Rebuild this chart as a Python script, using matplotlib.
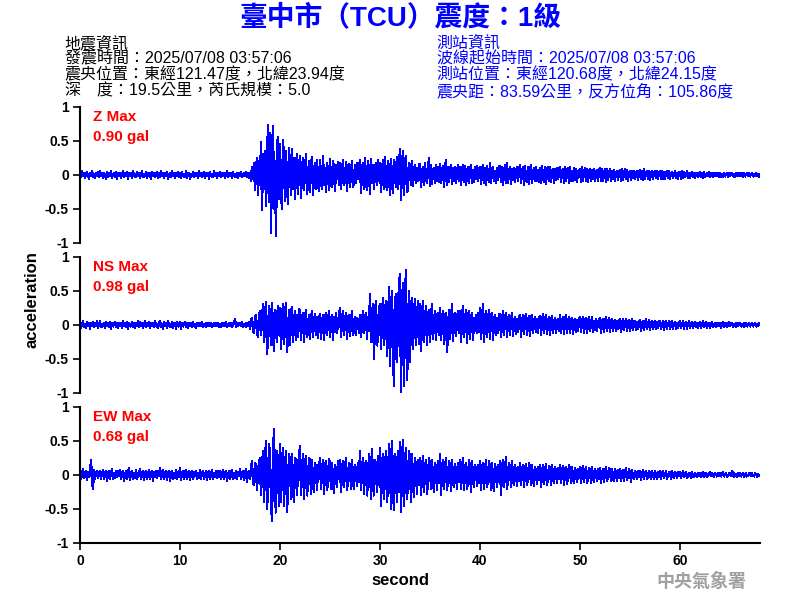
import numpy as np
import matplotlib
matplotlib.use('Agg')
import matplotlib.pyplot as plt

plt.rcParams['font.family'] = ['Liberation Sans', 'Noto Sans CJK TC']
plt.rcParams['axes.unicode_minus'] = False

# 取樣間隔 (秒)
dt = 0.1

# 垂直向 Z (gal), 每列 2 秒
z_acc = [
    .02, -.03, .05, -.01, .03, -.04, .01, .04, -.02, -.05, .03, -.02, .06, -.03, .01, -.04, .03, -.01, .04, -.03,
    .05, -.02, .02, -.04, .03, .01, -.05, .04, -.03, .02, -.02, .05, -.04, .01, .03, -.03, .04, -.05, .02, -.01,
    .03, -.04, .01, .05, -.03, .02, -.02, .04, -.05, .03, -.01, .02, -.04, .05, -.02, .01, -.03, .04, -.02, .03,
    -.04, .02, .05, -.03, .01, -.02, .04, -.04, .03, -.01, .02, -.05, .04, -.02, .03, -.03, .01, .04, -.04, .02,
    -.03, .05, -.01, .03, -.04, .02, -.02, .04, -.05, .01, .03, -.03, .05, -.02, .02, -.04, .03, -.01, .04, -.03,
    .02, -.04, .04, -.02, .01, -.03, .05, -.04, .02, .03, -.05, .01, -.02, .04, -.03, .03, -.01, .02, -.04, .05,
    -.02, .03, -.03, .01, .04, -.04, .02, -.01, .03, -.05, .04, -.02, .01, -.03, .05, -.02, .03, -.04, .02, -.01,
    .04, -.03, .02, -.02, .03, -.04, .01, .05, -.03, .02, -.01, .03, -.04, .04, -.02, .01, -.03, .02, -.04, .03,
    -.02, .04, -.03, .01, .03, -.02, .04, -.03, .02, -.04, .03, -.08, .12, -.05, .18, -.22, .10, .25, -.30, .20,
    -.15, .48, -.51, .30, -.20, .35, -.45, .15, .74, -.40, .62, -.85, .30, .72, -.50, .20, -.90, .45, .55, -.35,
    .45, -.25, -.50, .52, .20, -.38, .35, -.15, -.42, .40, .10, -.30, .38, -.20, .25, -.35, .15, .30, -.28, .12,
    .28, -.33, .10, .25, -.22, .08, .30, -.28, -.12, .20, -.25, .15, .27, -.30, .05, .18, -.20, .22, -.10, -.24,
    .22, -.08, -.20, .28, -.15, .10, -.25, .18, .06, -.22, .24, -.12, -.18, .20, .08, -.24, .15, -.06, .19, -.14,
    .17, -.20, .05, .22, -.15, -.08, .19, -.23, .12, .16, -.18, .04, .20, -.17, -.10, .14, -.12, .18, -.06, .10,
    .22, -.26, .08, .18, -.20, .25, -.10, -.22, .20, .06, -.28, .24, -.12, .15, -.20, .10, .18, -.15, .22, -.08,
    .18, -.25, .06, .22, -.20, .26, -.12, -.22, .20, .08, -.30, .24, -.10, -.27, .22, .14, -.18, .26, -.20, .12,
    .38, -.36, .15, .35, -.30, .20, .28, -.25, -.20, .18, .12, -.15, .20, -.16, .08, .14, -.12, .10, -.08, .16,
    .15, -.18, .05, .12, -.15, .17, -.06, -.12, .10, .25, -.16, .14, -.13, .06, .10, -.12, .15, -.08, .12, -.10,
    .16, -.12, .04, .13, -.17, .08, .22, -.14, .12, -.10, .06, .15, -.13, .10, -.08, .12, -.11, .05, .14, -.09,
    .12, -.14, .06, .15, -.10, .13, -.15, .04, .12, -.11, .09, .14, -.12, .07, -.10, .11, -.06, .13, -.08, .10,
    .11, -.13, .05, .15, -.12, .10, -.14, .13, -.05, -.10, .17, -.12, .08, .12, -.09, .06, -.11, .10, -.07, .12,
    .13, -.10, .12, -.15, .06, .14, -.11, .18, -.12, .04, .12, -.13, .09, -.07, .10, -.10, .06, .11, -.09, .08,
    .15, -.12, .05, .11, -.14, .13, -.06, -.10, .12, -.13, .08, .14, -.11, .05, .10, -.09, .12, -.08, .07, -.10,
    .10, -.12, .13, -.05, -.10, .11, -.13, .06, .12, -.09, .11, -.10, .04, .09, -.11, .08, -.07, .10, -.06, .09,
    .12, -.10, .04, .09, -.12, .11, -.09, .06, .10, -.11, .12, -.08, .05, -.09, .10, -.07, .08, -.10, .06, .07,
    .09, -.10, .11, -.08, .04, .10, -.09, .08, -.10, .05, .09, -.08, .07, -.06, .08, -.09, .05, .07, -.08, .06,
    .10, -.08, .09, -.09, .03, .08, -.10, .09, -.07, .05, .08, -.09, .06, -.05, .07, -.08, .04, .06, -.07, .05,
    .07, -.08, .09, -.07, .03, .08, -.06, .07, -.08, .04, .06, -.07, .05, -.04, .06, -.06, .03, .05, -.07, .04,
    .07, -.06, .06, -.07, .08, -.05, .02, .06, -.06, .05, -.07, .04, .05, -.05, .03, .06, -.04, .05, -.05, .03,
    .06, -.05, .05, -.06, .04, -.05, .02, .06, -.04, .05, -.05, .03, .04, -.04, .02, .05, -.04, .03, -.05, .04,
    .04, -.05, .05, -.04, .04, -.03, .01, .05, -.04, .03, -.04, .02, .04, -.03, .03, -.04, .02, .03, -.03, .02,
    .04, -.03, .03, -.04, .04, -.03, .01, .03, -.02, .04, -.03, .02, .03, -.03, .02, -.02, .03, -.01, .02, -.03,
    .03, -.03, .02, -.03, .03, -.02, .01, .03, -.03, .02, -.02, .02, .03, -.02, .01, -.03, .02, -.01, .02, -.02,
    .03, -.02, .02, -.03, .02, -.02, .01, .03, -.01, .02, -.02, .01, .02, -.02, .01, -.01, .02, -.01, .01, -.02,
    .01,
]

# 南北向 NS
ns_acc = [
    .03, -.04, .02, .05, -.03, .01, -.04, .04, -.02, .03, -.05, .02, -.01, .04, -.03, .02, -.02, .05, -.04, .01,
    .05, -.03, .01, -.02, .03, -.04, .04, -.01, .02, -.03, .04, -.05, .03, -.02, .01, .04, -.03, .02, -.04, .03,
    -.02, .03, -.04, .05, -.01, .02, -.03, .04, -.05, .03, .01, -.02, .04, -.03, .02, -.04, .03, -.01, .05, -.03,
    .04, -.02, .03, -.04, .01, .05, -.03, .02, -.02, .04, -.04, .03, -.01, .02, -.03, .05, -.02, .01, -.04, .03,
    .05, -.03, .02, -.05, .04, -.01, .03, -.04, .05, -.02, .01, -.03, .04, -.04, .02, .03, -.05, .04, -.02, .01,
    .04, -.05, .03, -.02, .01, .04, -.03, .02, -.04, .03, -.01, .02, -.03, .04, -.02, .01, -.04, .02, .03, -.02,
    .03, -.02, .04, -.03, .01, .02, -.03, .03, -.01, .02, -.02, .03, -.03, .01, .02, -.02, .03, -.01, .02, -.03,
    .02, -.03, .03, -.01, .02, -.02, .04, -.03, .01, .03, -.02, .02, -.03, .02, .01, .08, -.03, .02, -.02, .03,
    .03, -.02, .04, -.03, .01, .02, -.03, .03, -.02, .04, -.05, .06, .10, -.08, -.12, .12, .15, -.10, -.18, .14,
    .20, -.15, .08, .30, -.25, .12, .34, -.42, -.20, .28, .15, -.30, .32, -.10, -.38, .22, .18, -.25, .28, -.15,
    .25, -.35, .10, .30, -.28, .14, .32, -.40, -.12, .22, -.30, .18, .26, -.25, .06, .20, -.22, .15, -.18, .24,
    .20, -.22, .08, .18, -.25, .12, .22, -.18, -.08, .15, -.20, .10, .20, -.17, .05, .16, -.14, .12, -.19, .08,
    .16, -.20, .06, .14, -.22, .10, .18, -.15, .05, .20, -.18, .08, .15, -.22, .12, -.10, .17, -.12, .06, .14,
    .25, -.17, .08, .20, -.15, .05, .18, -.20, .10, .15, -.16, .06, .20, -.14, -.08, .12, -.15, .10, .08, -.12,
    .15, -.18, .06, .20, -.12, .10, .18, -.20, .12, -.08, .45, -.25, .15, .30, -.50, .20, .35, -.30, -.15, .25,
    .30, -.35, .12, .40, -.30, .20, .35, -.45, -.10, .55, -.60, .25, .50, -.40, -.90, .35, .45, -.55, .20, .60,
    .75, -1.0, .30, .62, -.90, .40, .81, -.81, -.30, .50, -.55, .25, .40, -.35, .15, .38, -.30, .10, .35, -.28,
    .30, -.38, .12, .35, -.25, .08, .28, -.30, .15, .22, -.25, .10, .30, -.20, .05, .20, -.22, .12, .18, -.15,
    .25, -.22, .08, .20, -.28, .12, .18, -.40, -.10, .22, -.20, .06, .30, -.24, .14, .18, -.16, .08, .20, -.12,
    .20, -.25, .10, .28, -.18, .06, .22, -.26, .12, .20, -.20, .08, .18, -.22, .10, -.08, .15, -.12, .18, -.10,
    .25, -.20, .06, .30, -.25, .10, .20, -.18, .05, .22, -.20, .12, .18, -.22, .08, .15, -.14, .10, -.12, .16,
    .16, -.18, .05, .20, -.15, .10, .18, -.17, .06, .15, -.14, .08, .17, -.16, .04, .12, -.13, .09, -.10, .12,
    .15, -.17, .06, .14, -.13, .08, .16, -.15, .05, .13, -.16, .10, .15, -.12, .04, .11, -.10, .08, -.12, .09,
    .13, -.14, .05, .16, -.12, .07, .14, -.13, .04, .12, -.15, .08, .13, -.11, .05, .10, -.12, .06, .09, -.08,
    .14, -.12, .05, .11, -.13, .08, .15, -.11, .04, .12, -.12, .06, .10, -.13, .05, .09, -.10, .07, -.08, .10,
    .12, -.10, .04, .11, -.12, .06, .10, -.11, .05, .12, -.09, .03, .11, -.10, .06, -.07, .09, -.08, .05, .08,
    .10, -.11, .04, .09, -.10, .05, .11, -.08, .03, .10, -.10, .06, .09, -.09, .04, .07, -.08, .05, -.06, .07,
    .08, -.10, .03, .09, -.07, .05, .08, -.09, .04, .07, -.08, .03, .09, -.07, .05, .06, -.07, .04, -.05, .06,
    .07, -.08, .03, .06, -.07, .04, .08, -.06, .02, .07, -.07, .04, .06, -.06, .03, .05, -.06, .04, -.04, .05,
    .06, -.06, .02, .05, -.07, .04, .06, -.05, .02, .05, -.06, .03, .05, -.05, .02, .04, -.05, .03, -.04, .04,
    .05, -.04, .02, .05, -.05, .03, .04, -.05, .02, .05, -.04, .02, .04, -.04, .01, .04, -.03, .02, -.04, .03,
    .04, -.04, .02, .05, -.03, .01, .04, -.04, .03, .03, -.04, .02, .04, -.03, .01, .03, -.03, .02, -.02, .03,
    .03, -.04, .01, .04, -.03, .02, .03, -.03, .01, .04, -.02, .02, .03, -.03, .01, .02, -.03, .02, -.02, .02,
    .03, -.02, .01, .02, -.03, .02, .03, -.02, .01, .02, -.02, .01, .02, -.02, .01, .03, -.02, .01, -.01, .02,
    .01,
]

# 東西向 EW
ew_acc = [
    .05, -.06, .03, .08, -.04, .02, .06, -.07, .04, -.03, .02, .22, -.10, -.20, .07, -.05, .04, .06, -.04, .03,
    .06, -.05, .02, .07, -.06, .03, .05, -.08, .01, .06, -.05, .04, .08, -.06, .02, -.04, .05, -.03, .06, -.02,
    .07, -.05, .03, .06, -.08, .02, .05, -.06, .04, .10, -.07, .02, .06, -.05, .03, -.04, .07, -.06, .02, .05,
    .08, -.06, .02, .06, -.07, .04, .05, -.06, .01, .07, -.05, .03, .06, -.08, .04, -.03, .05, -.04, .06, -.02,
    .10, -.06, .03, .07, -.05, .02, .06, -.07, .04, .05, -.08, .02, .06, -.05, .03, -.04, .07, -.05, .04, -.03,
    .10, -.07, .02, .06, -.06, .04, .07, -.05, .01, .06, -.07, .03, .05, -.06, .04, -.02, .06, -.05, .03, -.04,
    .07, -.05, .03, .06, -.06, .02, .05, -.07, .04, .06, -.05, .01, .07, -.06, .03, -.03, .05, -.04, .06, -.03,
    .05, -.06, .02, .07, -.05, .04, .06, -.08, .01, .05, -.06, .03, .07, -.05, .02, -.04, .06, -.05, .04, -.02,
    .08, -.06, .03, .06, -.07, .02, .08, -.10, .04, .06, -.05, .10, .20, -.12, -.15, .18, .12, -.22, .08, .16,
    .25, -.30, .10, .35, -.40, .18, .50, -.50, -.20, .45, .30, -.40, -.67, .25, .68, -.30, -.55, .35, .20, -.45,
    .45, -.40, .15, .40, -.45, .10, .35, -.54, -.20, .30, .22, -.35, .30, -.15, -.40, .25, .20, -.30, .12, .28,
    .42, -.30, .08, .30, -.35, .15, .28, -.30, -.10, .25, .20, -.28, .22, -.12, -.25, .18, .10, -.22, .15, .08,
    .25, -.20, .06, .22, -.28, .12, .20, -.22, -.08, .24, .15, -.20, .18, -.10, -.26, .14, .08, -.18, .20, -.06,
    .22, -.25, .08, .20, -.18, .10, .25, -.22, -.06, .18, .12, -.20, .22, -.08, -.20, .15, .06, -.16, .18, -.10,
    .35, -.22, .10, .25, -.28, .12, .20, -.30, -.08, .30, .20, -.35, .38, -.12, -.30, .22, .15, -.25, .28, -.15,
    .40, -.45, .15, .30, -.35, .10, .35, -.40, -.12, .45, .25, -.50, .50, -.20, -.52, .30, .20, -.40, .35, -.25,
    .48, -.54, .20, .52, -.45, .15, .40, -.35, -.10, .35, .22, -.40, .30, -.12, -.32, .25, .10, -.28, .22, -.15,
    .25, -.30, .08, .28, -.25, .12, .22, -.28, -.06, .25, .15, -.20, .22, -.10, -.25, .18, .08, -.22, .20, -.12,
    .30, -.30, .10, .22, -.20, .08, .25, -.22, -.05, .20, .14, -.24, .22, -.08, -.18, .16, .06, -.20, .18, -.10,
    .22, -.20, .06, .25, -.22, .10, .18, -.20, -.08, .22, .12, -.25, .20, -.06, -.18, .15, .08, -.16, .14, -.12,
    .20, -.22, .08, .18, -.20, .06, .22, -.18, -.05, .20, .12, -.22, .18, -.08, -.24, .16, .05, -.18, .15, -.10,
    .20, -.30, .10, .22, -.18, .06, .26, -.20, -.05, .18, .10, -.17, .20, -.06, -.15, .14, .05, -.16, .12, -.08,
    .17, -.15, .05, .15, -.18, .08, .16, -.14, -.04, .18, .10, -.15, .14, -.05, -.16, .12, .04, -.13, .11, -.07,
    .15, -.18, .06, .14, -.13, .05, .16, -.15, -.04, .13, .09, -.14, .15, -.05, -.12, .11, .04, -.12, .10, -.06,
    .14, -.12, .04, .13, -.14, .06, .12, -.13, -.03, .14, .08, -.11, .12, -.05, -.12, .10, .03, -.10, .09, -.05,
    .12, -.11, .04, .13, -.10, .05, .12, -.12, -.03, .10, .07, -.11, .12, -.04, -.10, .09, .03, -.09, .08, -.05,
    .10, -.11, .03, .09, -.10, .04, .11, -.09, -.02, .10, .06, -.08, .09, -.04, -.09, .08, .02, -.08, .07, -.04,
    .08, -.09, .03, .07, -.08, .04, .10, -.07, -.02, .08, .05, -.10, .07, -.03, -.06, .06, .02, -.06, .05, -.03,
    .06, -.07, .02, .07, -.05, .03, .06, -.06, -.02, .05, .04, -.06, .06, -.02, -.05, .05, .02, -.05, .04, -.03,
    .05, -.05, .02, .06, -.04, .02, .05, -.05, -.01, .04, .04, -.05, .05, -.02, -.04, .04, .01, -.04, .04, -.02,
    .04, -.04, .01, .05, -.03, .02, .04, -.04, -.01, .03, .03, -.04, .04, -.02, -.03, .03, .01, -.03, .03, -.02,
    .03, -.03, .01, .04, -.03, .02, .03, -.03, -.01, .03, .04, -.02, .03, -.01, -.03, .03, .01, -.02, .02, -.02,
    .03, -.02, .01, .04, -.02, .01, .03, -.03, -.01, .02, .03, -.02, .06, .02, -.03, .02, .01, -.03, .02, -.01,
    .03, -.02, .01, .03, -.03, .01, .02, -.02, -.01, .02, .03, -.02, .02, -.01, -.02, .02, .01, -.02, .01, -.01,
    .00,
]

channels = ['Z', 'NS', 'EW']
peak_gal = ['0.90', '0.98', '0.68']
yticks = [-1, -0.5, 0, 0.5, 1]
ytick_labels = ['-1', '-0.5', '0', '0.5', '1']
xticks = [0, 10, 20, 30, 40, 50, 60]

title = '臺中市（TCU）震度：1級'
quake_info = ['地震資訊',
              '發震時間：2025/07/08 03:57:06',
              '震央位置：東經121.47度，北緯23.94度',
              '深　度：19.5公里，芮氏規模：5.0']
station_info = ['測站資訊',
                '波線起始時間：2025/07/08 03:57:06',
                '測站位置：東經120.68度，北緯24.15度',
                '震央距：83.59公里，反方位角：105.86度']

fig = plt.figure(figsize=(8, 6), dpi=100)

# 標題與資訊
fig.text(0.5, 0.971, title, ha='center', va='center', fontsize=20,
         fontweight='bold', color='#0000FF')
line_y = [0.928, 0.902, 0.875, 0.848]
for s, y in zip(quake_info, line_y):
    fig.text(0.081, y, s, ha='left', va='center', fontsize=11.5, color='black')
for s, y in zip(station_info, line_y):
    fig.text(0.546, y, s, ha='left', va='center', fontsize=11.5, color='#0000FF')

bottoms = [0.595, 0.345, 0.095]
for i, acc in enumerate([z_acc, ns_acc, ew_acc]):
    ax = fig.add_axes([0.1, bottoms[i], 0.85, 0.2267])
    t = np.arange(len(acc)) * dt
    ax.plot(t, acc, color='#0000FF', lw=1.0, antialiased=False)
    ax.set_xlim(0, 68)
    ax.set_ylim(-1, 1)
    ax.spines['top'].set_visible(False)
    ax.spines['right'].set_visible(False)
    ax.spines['left'].set_linewidth(1.5)
    ax.spines['bottom'].set_linewidth(1.5)
    ax.set_yticks(yticks, ytick_labels, fontsize=10, fontweight='bold')
    ax.tick_params(axis='both', direction='out', length=5, width=1.2, pad=3)
    if i < 2:
        ax.spines['bottom'].set_visible(False)
        ax.set_xticks([])
    else:
        ax.set_xticks(xticks, [str(x) for x in xticks], fontsize=10,
                      fontweight='bold')
    ax.text(0.019, 0.926, f'{channels[i]} Max', transform=ax.transAxes,
            ha='left', va='center', fontsize=11, fontweight='bold', color='red')
    ax.text(0.019, 0.78, f'{peak_gal[i]} gal', transform=ax.transAxes,
            ha='left', va='center', fontsize=11, fontweight='bold', color='red')

fig.text(0.04, 0.5, 'acceleration', rotation=90, ha='center', va='center',
         fontsize=12, fontweight='bold')
fig.text(0.5, 0.033, 'second', ha='center', va='center', fontsize=12,
         fontweight='bold')
fig.text(0.877, 0.03, '中央氣象署', ha='center', va='center', fontsize=13,
         fontweight='bold', color='#A0A0A0')

fig.savefig('out.png', dpi=100)
